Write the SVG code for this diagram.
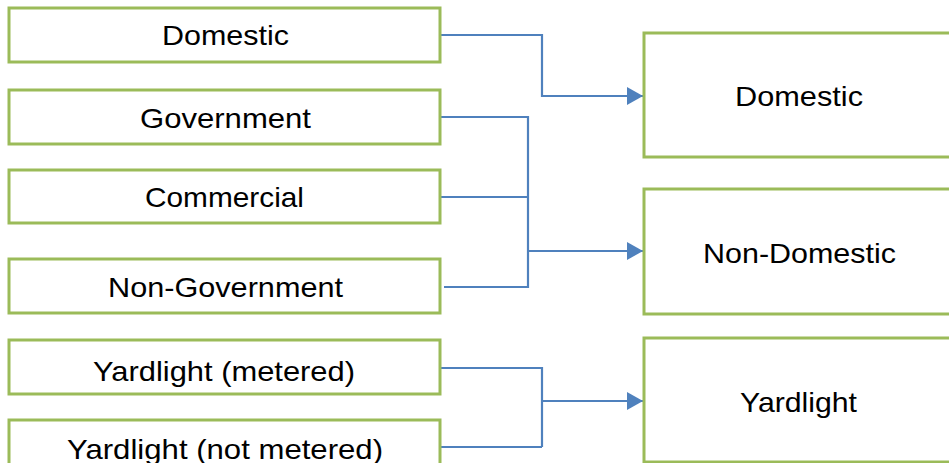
<svg xmlns="http://www.w3.org/2000/svg" width="949" height="463" viewBox="0 0 949 463">
<style>
.box{fill:#fff;stroke:#9BBB59;stroke-width:3}
.t{font-family:"Liberation Sans",Arial,sans-serif;font-size:28px;fill:#000;text-anchor:start}
.c{fill:none;stroke:#4F81BD;stroke-width:2.2}
</style>
<defs>
<marker id="ah" markerUnits="userSpaceOnUse" markerWidth="18" markerHeight="20" refX="16" refY="9" orient="auto">
<path d="M0,0 L16,9 L0,18 Z" fill="#4F81BD"/>
</marker>
</defs>
<rect width="949" height="463" fill="#fff"/>
<g id="connectors">
<path class="c" d="M440,35 H542 V96 H643" marker-end="url(#ah)"/>
<path class="c" d="M440,117 H528 V287 H444"/>
<path class="c" d="M440,197 H528" stroke-width="1.6"/>
<path class="c" d="M528,251 H643" marker-end="url(#ah)"/>
<path class="c" d="M440,368 H542 V447" stroke-width="2.6"/>
<path class="c" d="M440,447 H542" stroke="#A5BFDD" stroke-width="2.6"/>
<path class="c" d="M542,401 H643" stroke-width="1.8" marker-end="url(#ah)"/>
</g>
<g id="src-domestic"><rect class="box" x="9" y="8" width="431" height="54"/><text class="t" x="162" y="45" textLength="127" lengthAdjust="spacingAndGlyphs">Domestic</text></g>
<g id="src-government"><rect class="box" x="9" y="90" width="431" height="54"/><text class="t" x="140" y="128" textLength="171" lengthAdjust="spacingAndGlyphs">Government</text></g>
<g id="src-commercial"><rect class="box" x="9" y="170" width="431" height="53"/><text class="t" x="145" y="207" textLength="159" lengthAdjust="spacingAndGlyphs">Commercial</text></g>
<g id="src-nongovernment"><rect class="box" x="9" y="259" width="431" height="54"/><text class="t" x="108" y="297" textLength="235" lengthAdjust="spacingAndGlyphs">Non-Government</text></g>
<g id="src-yard-metered"><rect class="box" x="9" y="340" width="431" height="54"/><text class="t" x="93" y="381" textLength="262" lengthAdjust="spacingAndGlyphs">Yardlight (metered)</text></g>
<g id="src-yard-notmetered"><rect class="box" x="9" y="420" width="431" height="60"/><text class="t" x="67" y="459" textLength="316" lengthAdjust="spacingAndGlyphs">Yardlight (not metered)</text></g>
<g id="dst-domestic"><rect class="box" x="644" y="33" width="320" height="124"/><text class="t" x="735" y="106" textLength="128" lengthAdjust="spacingAndGlyphs">Domestic</text></g>
<g id="dst-nondomestic"><rect class="box" x="644" y="189" width="320" height="125"/><text class="t" x="703" y="263" textLength="193" lengthAdjust="spacingAndGlyphs">Non-Domestic</text></g>
<g id="dst-yardlight"><rect class="box" x="644" y="338" width="320" height="124"/><text class="t" x="740" y="412" textLength="117" lengthAdjust="spacingAndGlyphs">Yardlight</text></g>
</svg>
